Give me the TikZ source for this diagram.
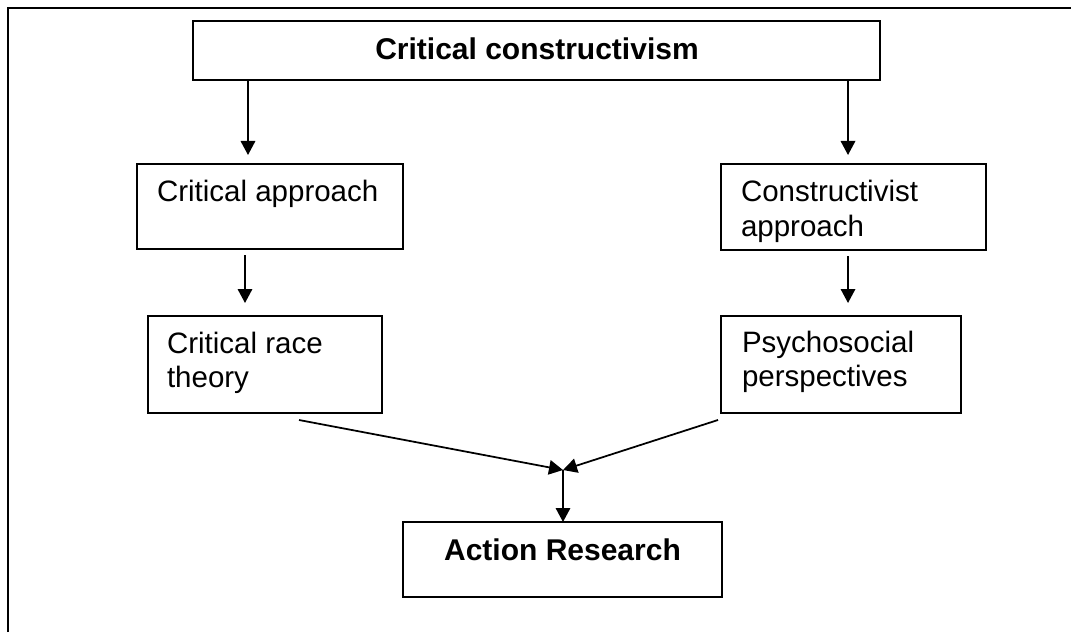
\documentclass[tikz,border=0pt]{standalone}
\usepackage{fontspec}
\setmainfont{Liberation Sans}
\usetikzlibrary{arrows.meta,calc}

\begin{document}
\begin{tikzpicture}[x=0.4pt,y=-0.4pt,
  box/.style={draw,line width=0.8pt,inner sep=0pt,outer sep=0pt},
  txt/.style={inner sep=0pt,outer sep=0pt,anchor=base west,
    font=\fontsize{11.8}{13.9}\selectfont},
  bold/.style={inner sep=0pt,outer sep=0pt,anchor=base,
    font=\fontsize{12}{14}\selectfont\bfseries},
  arr/.style={line width=0.7pt,-{Triangle[width=5.8pt,length=5.6pt]}}]
  \useasboundingbox (0,0) rectangle (1071,632);

  % outer frame (top and left edges)
  \draw[line width=1pt] (8,632) -- (8,8) -- (1071,8);

  % boxes
  \node[box,minimum width=687*0.4pt,minimum height=59*0.4pt] (top) at (536.5,50.5) {};
  \node[box,minimum width=266*0.4pt,minimum height=85*0.4pt] (ca)  at (270,206.5) {};
  \node[box,minimum width=265*0.4pt,minimum height=86*0.4pt] (cv)  at (853.5,207) {};
  \node[box,minimum width=234*0.4pt,minimum height=97*0.4pt] (crt) at (265,364.5) {};
  \node[box,minimum width=240*0.4pt,minimum height=97*0.4pt] (ps)  at (841,364.5) {};
  \node[box,minimum width=319*0.4pt,minimum height=75*0.4pt] (ar)  at (562.5,559.5) {};

  % labels
  \node[bold] (ttop) at (537,60) {Critical constructivism};
  \node[txt] (tca) at (157,202) {Critical approach};
  \node[txt] (tcv) at (741,202) {\vtop{\hbox{Constructivist}\hbox{approach}}};
  \node[txt] (tcrt) at (167,353) {\vtop{\hbox{Critical race}\hbox{theory}}};
  \node[txt] (tps) at (742,352) {\vtop{\hbox{Psychosocial}\hbox{perspectives}}};
  \node[bold] (tar) at (562.5,560) {Action Research};

  % merge point above the bottom box
  \coordinate (m) at (563,470);

  % connectors
  \draw[arr,shorten >=9*0.4pt] ([xshift=-22*0.4pt]ca.north |- top.south) -- ([xshift=-22*0.4pt]ca.north);
  \draw[arr,shorten >=9*0.4pt] ([xshift=-5.5*0.4pt]cv.north |- top.south) -- ([xshift=-5.5*0.4pt]cv.north);
  \draw[arr,shorten <=6*0.4pt,shorten >=13*0.4pt]
    ([xshift=-20*0.4pt]crt.north |- ca.south) -- ([xshift=-20*0.4pt]crt.north);
  \draw[arr,shorten <=6*0.4pt,shorten >=13*0.4pt]
    ([xshift=7*0.4pt]ps.north |- cv.south) -- ([xshift=7*0.4pt]ps.north);
  \draw[arr] ([xshift=34*0.4pt,yshift=-7*0.4pt]crt.south) -- (m);
  \draw[arr] ([xshift=-3*0.4pt,yshift=-7*0.4pt]ps.south west) -- (m);
  \draw[arr] (m) -- (m |- ar.north);
\end{tikzpicture}
\end{document}
